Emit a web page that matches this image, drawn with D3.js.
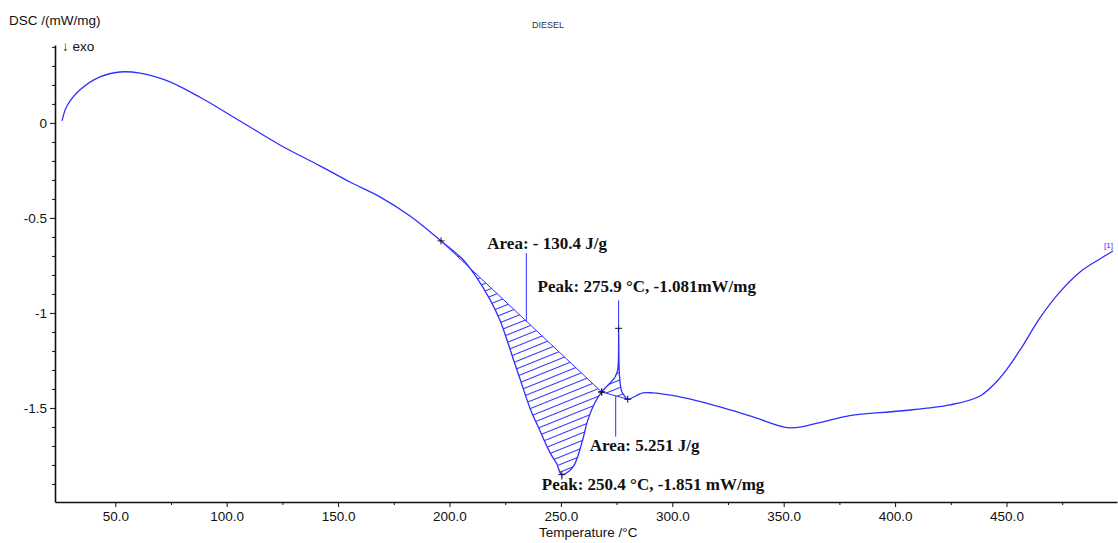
<!DOCTYPE html>
<meta charset="utf-8">
<script src="https://d3js.org/d3.v7.min.js"></script>
<style>
  body { margin: 0; background: #fff; }
  text { font-family: "Liberation Sans", Arial, sans-serif; }
  .ann { font-family: "Liberation Serif", "Times New Roman", serif; font-weight: bold; font-size: 17px; fill: #111; }
</style>
<div id="chart"></div>
<script>

// DSC curve (temperature /°C, DSC /(mW/mg))
var temps = [26.1, 28.3, 34.2, 43.1, 52.1, 61.1, 73.2, 88.0, 106.0, 123.9, 141.9, 155.3, 168.8, 182.3, 196.2,
  206.1, 211.4, 218.2, 222.7, 226.3, 229.4, 231.6, 236.1, 240.6, 245.1, 248.2, 250.4, 255.4, 259.4, 262.1, 265.2, 268.3,
  272.1, 274.3, 275.5, 275.9, 276.3, 277.3, 278.8, 280.0, 286.8, 291.3, 303.4, 321.4, 336.2, 352.8, 366.2, 379.7, 402.2,
  424.6, 438.1, 447.1, 456.1, 465.0, 474.0, 483.0, 491.9, 497.8];
var dsc = [0.011, 0.089, 0.174, 0.242, 0.268, 0.262, 0.222, 0.135, 0.010, -0.116, -0.226, -0.311, -0.389, -0.490, -0.621,
  -0.720, -0.800, -0.930, -1.040, -1.160, -1.270, -1.345, -1.500, -1.620, -1.735, -1.795, -1.851, -1.811, -1.684, -1.563, -1.474, -1.416,
  -1.368, -1.337, -1.300, -1.081, -1.330, -1.414, -1.441, -1.454, -1.421, -1.421, -1.442, -1.495, -1.547, -1.605, -1.577, -1.540, -1.516,
  -1.484, -1.437, -1.342, -1.195, -1.026, -0.889, -0.784, -0.716, -0.674];

// evaluation limits (start, end) and peaks
var areaLimits = [[196.2, 268.3], [268.3, 280.0]];
var areaLabels = ["Area: - 130.4 J/g", "Area: 5.251 J/g"];
var peakTemps = [250.4, 275.9];
var peakValues = [-1.851, -1.081];
var peakLabels = ["Peak: 250.4 \u00B0C, -1.851 mW/mg", "Peak: 275.9 \u00B0C, -1.081mW/mg"];

var xMajor = [50, 100, 150, 200, 250, 300, 350, 400, 450];
var yMajor = [0, -0.5, -1, -1.5];

var W = 1118, H = 543;
var blue = "#2f2fff";

var svg = d3.select("#chart").append("svg")
  .attr("width", W).attr("height", H);

var x = d3.scaleLinear().domain([22.94, 499.6]).range([55, 1117]);
var y = d3.scaleLinear().domain([-1.995, 0.41]).range([502, 45]);

var data = temps.map(function(t, i) { return {t: t, v: dsc[i]}; });

function valueAt(t) {
  var i = d3.bisector(function(d) { return d.t; }).left(data, t);
  if (i <= 0) return data[0].v;
  if (i >= data.length) return data[data.length - 1].v;
  var a = data[i - 1], b = data[i];
  return a.v + (b.v - a.v) * (t - a.t) / (b.t - a.t);
}

// hatch pattern
var defs = svg.append("defs");
defs.append("pattern")
  .attr("id", "hatch")
  .attr("patternUnits", "userSpaceOnUse")
  .attr("width", 8).attr("height", 7)
  .attr("patternTransform", "rotate(-22)")
  .append("line")
  .attr("x1", 0).attr("y1", 3.5).attr("x2", 8).attr("y2", 3.5)
  .attr("stroke", blue).attr("stroke-width", 1);

var curve = d3.curveCatmullRom.alpha(0.5);
var line = d3.line().x(function(d) { return x(d.t); }).y(function(d) { return y(d.v); }).curve(curve);

// hatched areas between curve and straight baseline
areaLimits.forEach(function(lim) {
  var pts = data.filter(function(d) { return d.t > lim[0] && d.t < lim[1]; });
  pts.unshift({t: lim[0], v: valueAt(lim[0])});
  pts.push({t: lim[1], v: valueAt(lim[1])});
  svg.append("path").attr("d", line(pts) + "Z")
    .attr("fill", "url(#hatch)").attr("stroke", "none");
  svg.append("line")
    .attr("x1", x(lim[0])).attr("y1", y(pts[0].v))
    .attr("x2", x(lim[1])).attr("y2", y(pts[pts.length - 1].v))
    .attr("stroke", blue).attr("stroke-width", 1);
});

// main curve
svg.append("path")
  .datum(data)
  .attr("fill", "none")
  .attr("stroke", blue)
  .attr("stroke-width", 1.3)
  .attr("d", line);

// axes
var xAxis = svg.append("g")
  .attr("transform", "translate(0," + 502 + ")")
  .call(d3.axisBottom(x).tickValues(xMajor).tickSize(5).tickSizeOuter(0).tickFormat(d3.format(".1f")));
svg.append("g")
  .attr("transform", "translate(0," + 502 + ")")
  .call(d3.axisBottom(x).tickValues(d3.range(75, 500, 50)).tickSize(3).tickSizeOuter(0).tickFormat(""))
  .select(".domain").remove();

var yAxis = svg.append("g")
  .attr("transform", "translate(" + 55 + ",0)")
  .call(d3.axisLeft(y).tickValues(yMajor).tickSize(5).tickSizeOuter(0)
    .tickFormat(function(d) { return String(d); }));
svg.append("g")
  .attr("transform", "translate(" + 55 + ",0)")
  .call(d3.axisLeft(y).tickValues(d3.range(-19, 5).map(function(k) { return k / 10; })
      .filter(function(v) { return Math.abs(v * 2 - Math.round(v * 2)) > 1e-6; }))
    .tickSize(3).tickSizeOuter(0).tickFormat(""))
  .select(".domain").remove();

[xAxis, yAxis].forEach(function(g) {
  g.select(".domain").attr("stroke", "#111").attr("stroke-width", 1.6);
  g.selectAll("text").style("font-size", "13.5px").attr("fill", "#111");
});
xAxis.selectAll("text").attr("dy", "0.8em");
svg.selectAll(".tick line").attr("stroke", "#111");

// axis titles
svg.append("text").attr("x", 9).attr("y", 25).style("font-size", "13.5px").attr("fill", "#111").text("DSC /(mW/mg)");
svg.append("text").attr("x", 62).attr("y", 51).style("font-size", "13.5px").attr("fill", "#111").text("\u2193 exo");
svg.append("text").attr("x", 539).attr("y", 537).style("font-size", "13.5px").attr("fill", "#111").text("Temperature /\u00B0C");
svg.append("text").attr("x", 548).attr("y", 28).attr("text-anchor", "middle")
  .style("font-size", "9px").attr("fill", "#333350").text("DIESEL");
svg.append("text").attr("x", x(497.8)).attr("y", y(-0.674) - 3).attr("text-anchor", "end")
  .style("font-size", "8px").attr("fill", blue).text("[1]");

// crosses at limits and peaks
var crossPts = [];
areaLimits.forEach(function(l) { crossPts.push({t: l[0], v: valueAt(l[0])}); crossPts.push({t: l[1], v: valueAt(l[1])}); });
peakTemps.forEach(function(t, i) { crossPts.push({t: t, v: peakValues[i]}); });
svg.selectAll(".cross")
  .data(crossPts)
  .enter().append("path")
  .attr("class", "cross")
  .attr("d", function(d) {
    var cx = x(d.t), cy = y(d.v);
    return "M" + (cx - 3.5) + "," + cy + "H" + (cx + 3.5) + "M" + cx + "," + (cy - 3.5) + "V" + (cy + 3.5);
  })
  .attr("stroke", "#111").attr("stroke-width", 1);

// annotations: leader lines and labels
var areaLeaderT = [234.5, 274.6];
function baseAt(lim, t) {
  var v0 = valueAt(lim[0]), v1 = valueAt(lim[1]);
  return v0 + (v1 - v0) * (t - lim[0]) / (lim[1] - lim[0]);
}
// area 1 label above
var a1x = x(areaLeaderT[0]);
svg.append("line").attr("x1", a1x).attr("x2", a1x).attr("y1", y(-0.686)).attr("y2", y(baseAt(areaLimits[0], areaLeaderT[0])))
  .attr("stroke", blue).attr("stroke-width", 1);
svg.append("text").attr("class", "ann").attr("x", a1x - 39).attr("y", y(-0.663)).text(areaLabels[0]);

// area 2 label below
var a2x = x(areaLeaderT[1]);
svg.append("line").attr("x1", a2x).attr("x2", a2x).attr("y1", y(baseAt(areaLimits[1], areaLeaderT[1]))).attr("y2", y(-1.651))
  .attr("stroke", blue).attr("stroke-width", 1);
svg.append("text").attr("class", "ann").attr("x", a2x - 26).attr("y", y(-1.725)).text(areaLabels[1]);

// peak 2 (small, above)
var p2x = x(peakTemps[1]);
svg.append("line").attr("x1", p2x).attr("x2", p2x).attr("y1", y(-0.934)).attr("y2", y(peakValues[1]))
  .attr("stroke", blue).attr("stroke-width", 1);
svg.append("text").attr("class", "ann").attr("x", p2x - 81).attr("y", y(-0.888)).text(peakLabels[1]);

// peak 1 (main, below)
var p1x = x(peakTemps[0]);
svg.append("line").attr("x1", p1x).attr("x2", p1x).attr("y1", y(peakValues[0])).attr("y2", y(peakValues[0]) + 5)
  .attr("stroke", blue).attr("stroke-width", 1);
svg.append("text").attr("class", "ann").attr("x", p1x - 20).attr("y", y(-1.932)).text(peakLabels[0]);

</script>
